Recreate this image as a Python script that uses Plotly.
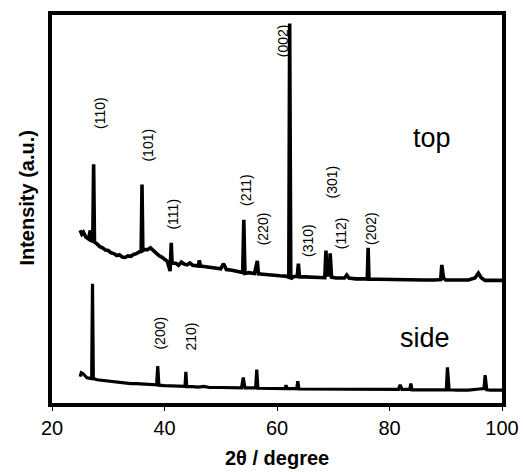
import plotly.graph_objects as go

# ---- data (2theta in degrees, intensity in arbitrary units 0-100) ----
top_2theta = [25.0, 25.3, 25.6, 26.0, 26.5, 26.8, 26.9, 27.25, 27.4, 27.55, 28.0, 28.5, 29.0, 29.5,
              30.0, 30.5, 31.0, 31.5, 32.0, 32.5, 33.0, 33.5, 34.0, 34.5, 35.0, 35.5, 35.85, 36.0,
              36.15, 36.5, 37.0, 37.5, 38.0, 38.5, 39.0, 39.5, 40.0, 40.5, 41.0, 41.1, 41.2, 41.35,
              42.0, 42.5, 43.0, 43.5, 44.0, 44.5, 45.0, 45.5, 46.0, 46.2, 46.4, 47.0, 48.0, 49.0,
              50.0, 50.5, 51.0, 52.0, 53.0, 53.9, 54.1, 54.3, 55.0, 56.0, 56.5, 56.7, 57.5, 58.5,
              59.5, 60.5, 61.5, 62.1, 62.25, 62.45, 63.0, 63.6, 63.8, 64.0, 65.0, 66.0, 67.0, 68.5,
              68.7, 68.9, 69.3, 69.45, 69.7, 70.5, 72.0, 72.4, 72.8, 74.0, 75.5, 76.05, 76.2, 76.35,
              78.0, 80.0, 82.0, 84.0, 86.0, 88.0, 89.1, 89.3, 89.6, 90.0, 92.0, 94.0, 95.2, 95.8,
              96.3, 97.0, 98.0, 100.0]
top_intensity = [44.5, 43.5, 44.0, 42.8, 42.3, 44.5, 42.0, 41.6, 61.5, 41.5, 41.0, 40.3, 40.0, 39.4,
                 39.3, 38.7, 38.5, 38.0, 38.2, 37.6, 37.5, 37.9, 37.8, 38.3, 38.5, 39.0, 39.2, 56.3,
                 39.3, 39.6, 39.5, 40.0, 39.3, 38.8, 38.0, 37.6, 36.9, 36.5, 34.0, 36.2, 41.3, 36.0,
                 36.0, 35.5, 36.3, 35.8, 35.6, 36.1, 35.5, 35.4, 35.3, 36.8, 35.3, 35.2, 35.0, 34.8,
                 34.6, 35.9, 34.4, 34.2, 33.8, 33.6, 47.2, 33.4, 33.6, 33.4, 36.6, 33.3, 33.2, 33.0,
                 32.9, 32.8, 32.7, 32.4, 97.8, 32.0, 32.6, 32.6, 35.9, 32.5, 32.5, 32.4, 32.3, 32.3,
                 39.3, 33.0, 33.0, 38.6, 32.4, 32.2, 32.2, 33.0, 32.2, 32.0, 32.0, 32.0, 40.0, 31.9,
                 31.9, 31.8, 31.8, 31.7, 31.7, 31.7, 31.8, 35.6, 32.2, 31.7, 31.7, 31.7, 32.2, 33.5,
                 32.3, 31.6, 31.6, 31.6]

side_2theta = [25.0, 25.2, 25.5, 25.8, 26.2, 26.6, 27.05, 27.2, 27.35, 28.0, 29.0, 30.0, 31.0, 32.0,
               33.0, 34.0, 35.0, 36.0, 37.0, 38.6, 38.8, 39.0, 40.0, 41.0, 42.0, 43.65, 43.8, 43.95,
               45.0, 46.0, 47.0, 48.0, 50.0, 52.0, 53.7, 54.0, 54.3, 56.2, 56.4, 56.6, 58.0, 60.0,
               61.4, 61.6, 61.8, 63.5, 63.7, 63.9, 66.0, 70.0, 75.0, 80.0, 81.6, 81.9, 82.2, 83.6,
               83.8, 84.0, 86.0, 88.0, 90.1, 90.3, 90.6, 92.0, 94.0, 96.0, 96.8, 97.0, 97.3, 98.0,
               100.0]
side_intensity = [6.8, 7.8, 7.6, 7.0, 6.5, 6.4, 6.3, 30.7, 6.3, 6.0, 5.8, 5.6, 5.4, 5.3,
                  5.2, 5.0, 5.0, 4.9, 4.8, 4.7, 9.5, 4.6, 4.5, 4.5, 4.3, 4.3, 8.0, 4.2,
                  4.2, 4.1, 4.3, 4.0, 4.0, 3.9, 3.9, 6.6, 3.9, 3.9, 8.6, 3.8, 3.8, 3.7,
                  3.7, 4.6, 3.7, 3.7, 5.6, 3.6, 3.6, 3.5, 3.5, 3.4, 3.5, 4.7, 3.5, 3.5,
                  5.0, 3.4, 3.4, 3.4, 3.4, 9.2, 3.4, 3.3, 3.3, 3.6, 3.7, 7.2, 3.4, 3.3,
                  3.3]

peak_labels = ["(110)", "(101)", "(111)", "(211)", "(220)", "(002)", "(310)", "(301)", "(112)",
               "(202)", "(200)", "210)"]
label_2theta = [28.5, 37.1, 41.6, 54.6, 57.5, 61.1, 65.6, 69.7, 71.5, 76.8, 39.2, 44.8]
label_intensity = [74.7, 66.4, 48.7, 54.8, 45.0, 93.3, 41.9, 57.0, 43.7, 45.0, 17.9, 17.0]

sample_names = ["top", "side"]
sample_2theta = [87.5, 86.3]
sample_intensity = [68.4, 16.8]

x_ticks = [20, 40, 60, 80, 100]

fig = go.Figure()
fig.add_trace(go.Scatter(x=top_2theta, y=top_intensity, mode="lines",
                         line=dict(color="black", width=3.6), showlegend=False))
fig.add_trace(go.Scatter(x=side_2theta, y=side_intensity, mode="lines",
                         line=dict(color="black", width=3.2), showlegend=False))

for t, x, y in zip(peak_labels, label_2theta, label_intensity):
    fig.add_annotation(x=x, y=y, text=t, textangle=-90, showarrow=False,
                       font=dict(family="Liberation Sans, Arial", size=14, color="black"))

for t, x, y in zip(sample_names, sample_2theta, sample_intensity):
    fig.add_annotation(x=x, y=y, text=t, showarrow=False,
                       font=dict(family="Liberation Sans, Arial", size=27, color="black"))

# axis titles placed as paper annotations
fig.add_annotation(xref="paper", yref="paper", x=0.5, y=-0.142, yanchor="middle",
                   text="<b>2θ / degree</b>", showarrow=False,
                   font=dict(family="Liberation Sans, Arial", size=20, color="black"))
fig.add_annotation(xref="paper", yref="paper", x=-0.055, xanchor="center", y=0.53,
                   text="<b>Intensity (a.u.)</b>", textangle=-90, showarrow=False,
                   font=dict(family="Liberation Sans, Arial", size=20, color="black"))

fig.update_layout(
    width=523, height=472,
    margin=dict(l=52, r=21, t=15, b=69, autoexpand=False),
    paper_bgcolor="white", plot_bgcolor="white",
    font=dict(family="Liberation Sans, Arial", color="black"),
    xaxis=dict(range=[20, 100], tickvals=x_ticks, ticktext=[str(v) for v in x_ticks],
               showgrid=False, zeroline=False, showline=True, linecolor="black", linewidth=3.5,
               mirror=True, ticks="outside", ticklen=4, tickwidth=1, tickcolor="black",
               tickfont=dict(size=20), automargin=False),
    yaxis=dict(range=[0, 100], showticklabels=False, ticks="",
               showgrid=False, zeroline=False, showline=True, linecolor="black", linewidth=3.5,
               mirror=True, automargin=False),
)

fig.write_html("out.html", config={"displayModeBar": False},
               post_script="document.body.style.margin='0';document.body.style.overflow='hidden';")
